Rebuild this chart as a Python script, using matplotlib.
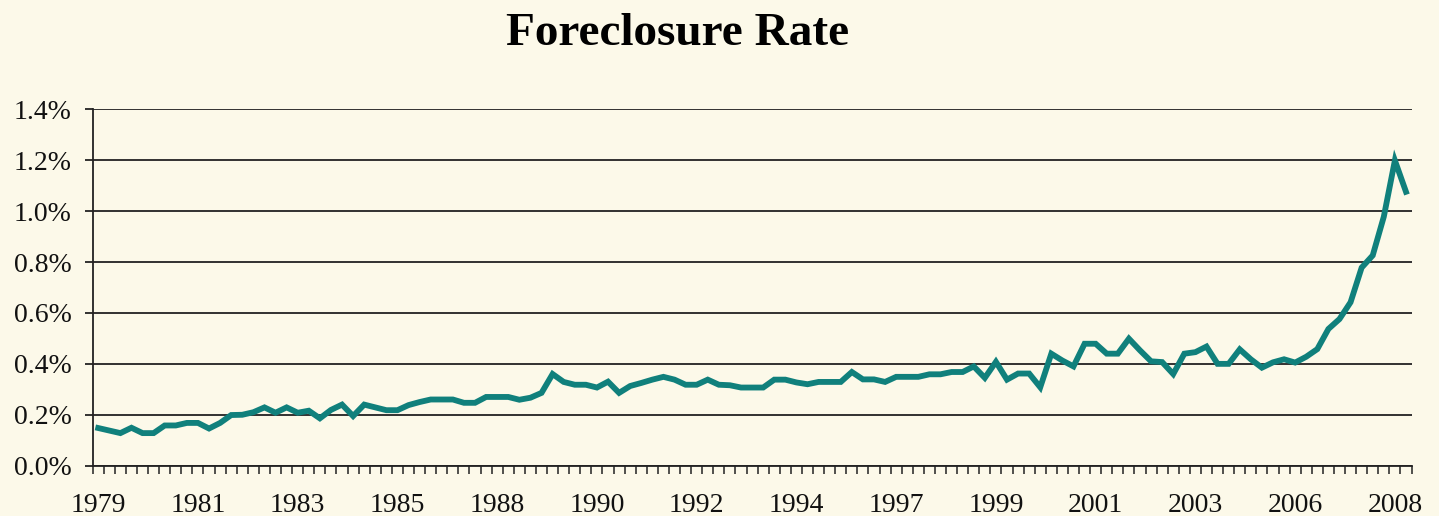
import matplotlib
matplotlib.use("Agg")
import matplotlib.pyplot as plt
import numpy as np

# quarterly foreclosure rate (%), 1979 Q1 .. 2008 Q3
rate = [
    0.148, 0.138, 0.128, 0.149, 0.128, 0.128, 0.158, 0.158, 0.168, 0.168,
    0.146, 0.168, 0.199, 0.200, 0.210, 0.229, 0.208, 0.229, 0.208, 0.216,
    0.186, 0.219, 0.240, 0.195, 0.240, 0.229, 0.218, 0.218, 0.238, 0.250,
    0.260, 0.260, 0.260, 0.247, 0.247, 0.270, 0.270, 0.270, 0.259, 0.267,
    0.286, 0.360, 0.329, 0.318, 0.318, 0.307, 0.330, 0.286, 0.313, 0.325,
    0.338, 0.349, 0.338, 0.318, 0.318, 0.338, 0.318, 0.316, 0.307, 0.307,
    0.307, 0.338, 0.338, 0.327, 0.320, 0.329, 0.329, 0.329, 0.368, 0.339,
    0.339, 0.329, 0.349, 0.349, 0.349, 0.359, 0.359, 0.368, 0.368, 0.390,
    0.345, 0.408, 0.338, 0.362, 0.362, 0.308, 0.440, 0.413, 0.390, 0.479,
    0.479, 0.440, 0.440, 0.499, 0.453, 0.410, 0.407, 0.360, 0.440, 0.446,
    0.468, 0.400, 0.400, 0.457, 0.418, 0.385, 0.406, 0.418, 0.405, 0.428,
    0.458, 0.537, 0.576, 0.642, 0.778, 0.826, 0.978, 1.199, 1.076,
]
year_labels = ["1979", "1981", "1983", "1985", "1988", "1990", "1992",
               "1994", "1997", "1999", "2001", "2003", "2006", "2008"]
label_step = 9
y_ticks = [0.0, 0.2, 0.4, 0.6, 0.8, 1.0, 1.2, 1.4]

bg = "#FCF9E9"
teal = "#10807C"

plt.rcParams["font.family"] = ["Liberation Serif", "DejaVu Serif"]

fig = plt.figure(figsize=(14.39, 5.16), dpi=100, facecolor=bg)
ax = fig.add_axes([0.0644, 0.0975, 0.9165, 0.6907], facecolor=bg)

n = len(rate)
x = np.arange(n)
ax.plot(x, rate, color=teal, lw=4.2, solid_joinstyle="miter", zorder=3)

ax.set_xlim(-0.5, n - 0.5)
ax.set_ylim(0, 1.4)

# y axis
ax.set_yticks(y_ticks)
ax.set_yticklabels([f"{v:.1f}%" for v in y_ticks])
ax.yaxis.grid(True, color="#222222", lw=1.3)
ax.tick_params(axis="y", direction="out", length=6, width=1.2,
               labelsize=20, pad=9, colors="#111111")

# x axis: tick marks between categories, labels every 9 quarters
ax.set_xticks(np.arange(n + 1) - 0.5)
ax.set_xticklabels([])
ax.tick_params(axis="x", which="major", direction="out", length=5.5, width=1.1,
               colors="#222222")
ax.set_xticks(np.arange(0, n, label_step), minor=True)
ax.set_xticklabels(year_labels, minor=True)
ax.tick_params(axis="x", which="minor", length=0, labelsize=20, pad=20,
               labelcolor="#111111")

ax.set_axisbelow(True)
for s in ["top", "right"]:
    ax.spines[s].set_visible(False)
for s in ["left", "bottom"]:
    ax.spines[s].set_color("#222222")
    ax.spines[s].set_linewidth(1.3)

fig.text(678 / 1439, 1 - 45 / 516, "Foreclosure Rate", ha="center",
         va="baseline", fontsize=34, fontweight="bold", color="black")

fig.savefig("out.png", dpi=100, facecolor=bg)
